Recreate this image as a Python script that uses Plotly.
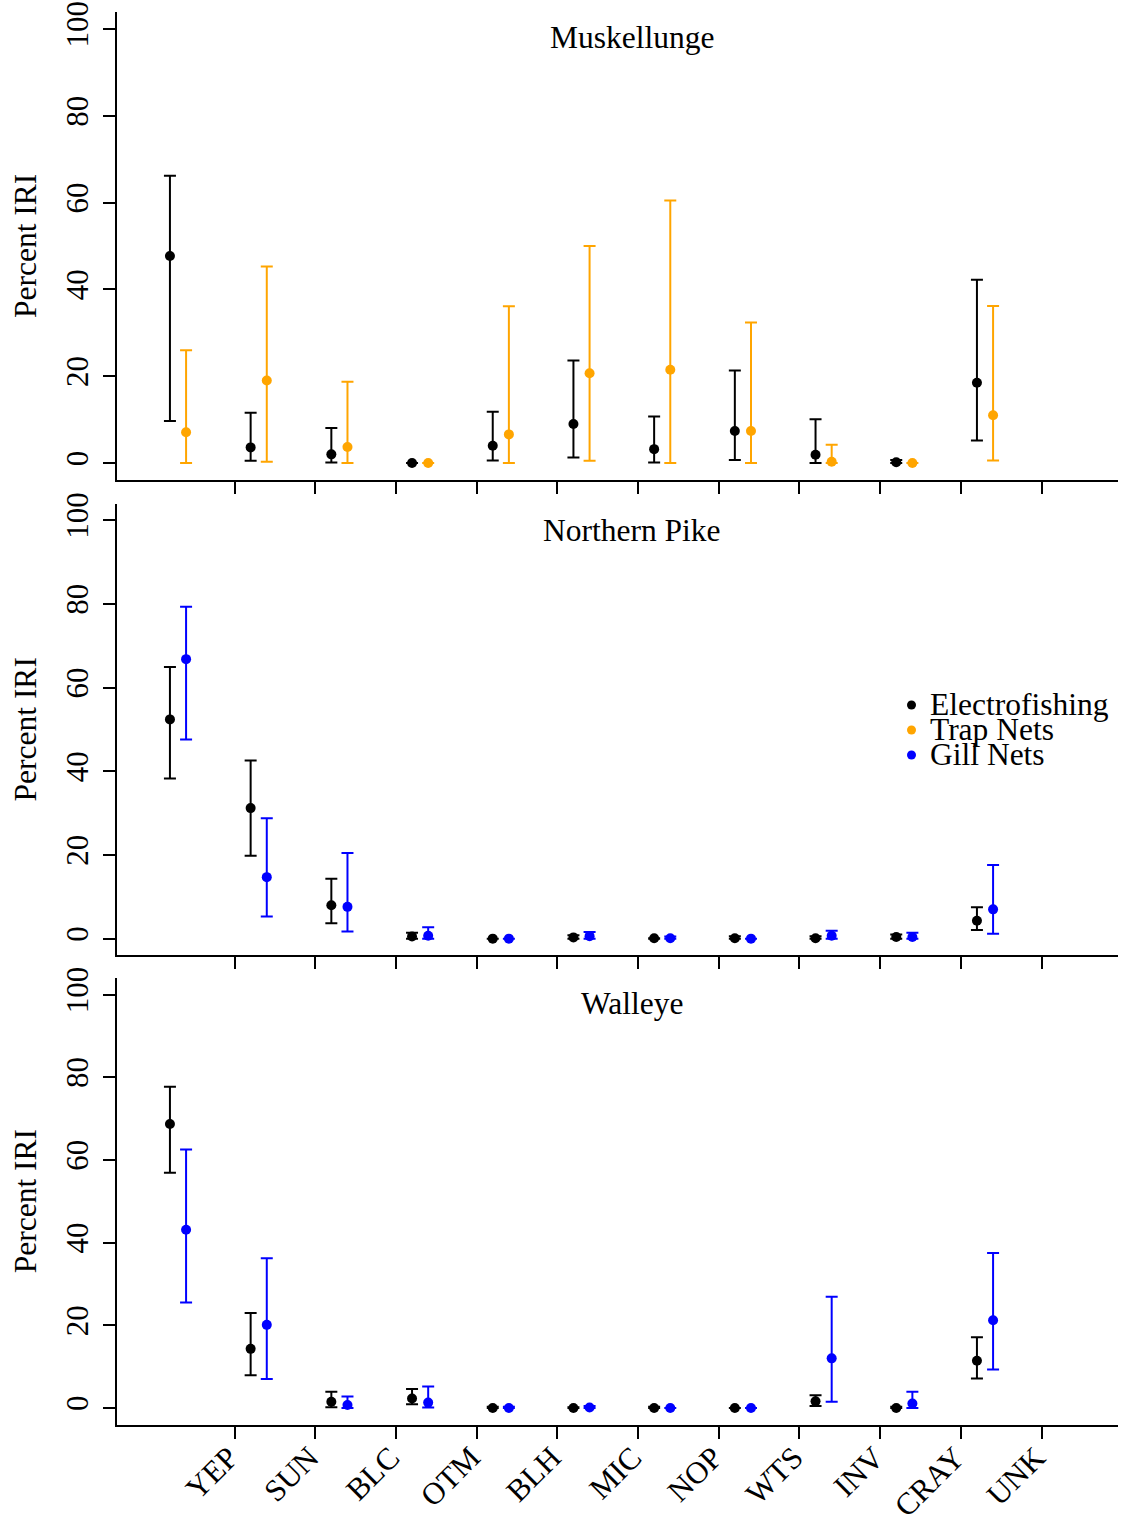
import plotly.graph_objects as go

W, H = 1125, 1515

categories = ["YEP", "SUN", "BLC", "OTM", "BLH", "MIC", "NOP", "WTS", "INV", "CRAY", "UNK"]
y_ticks = [0, 20, 40, 60, 80, 100]
panel_titles = ["Muskellunge", "Northern Pike", "Walleye"]
legend_names = ["Electrofishing", "Trap Nets", "Gill Nets"]
legend_colors = ["black", "#FFA500", "#0000FF"]

# Muskellunge: Electrofishing (black) and Trap Nets (orange)
musk_ef = [47.7, 3.6, 2.0, 0.0, 4.0, 9.0, 3.2, 7.4, 1.9, 0.2, 18.5]
musk_ef_lo = [9.7, 0.5, 0.1, 0.0, 0.6, 1.3, 0.1, 0.7, 0.0, 0.0, 5.2]
musk_ef_hi = [66.2, 11.6, 8.1, 0.0, 11.8, 23.6, 10.7, 21.3, 10.1, 0.7, 42.2]
musk_tn = [7.1, 19.0, 3.7, 0.0, 6.6, 20.7, 21.5, 7.4, 0.3, 0.0, 11.0]
musk_tn_lo = [0.0, 0.3, 0.0, 0.0, 0.0, 0.5, 0.0, 0.0, 0.0, 0.0, 0.6]
musk_tn_hi = [26.0, 45.3, 18.7, 0.0, 36.1, 50.0, 60.5, 32.4, 4.2, 0.0, 36.2]

# Northern Pike: Electrofishing (black) and Gill Nets (blue)
pike_ef = [52.4, 31.2, 8.0, 0.5, 0.0, 0.3, 0.1, 0.1, 0.1, 0.4, 4.3]
pike_ef_lo = [38.3, 19.8, 3.7, 0.0, 0.0, 0.0, 0.0, 0.0, 0.0, 0.0, 2.1]
pike_ef_hi = [64.9, 42.6, 14.3, 1.4, 0.0, 0.8, 0.1, 0.6, 0.6, 1.0, 7.5]
pike_gn = [66.8, 14.7, 7.6, 0.7, 0.0, 0.6, 0.1, 0.0, 0.7, 0.4, 7.0]
pike_gn_lo = [47.6, 5.3, 1.7, 0.0, 0.0, 0.0, 0.0, 0.0, 0.0, 0.0, 1.2]
pike_gn_hi = [79.3, 28.8, 20.5, 2.7, 0.0, 1.6, 0.5, 0.0, 1.9, 1.4, 17.6]

# Walleye: Electrofishing (black) and Gill Nets (blue)
wall_ef = [68.7, 14.3, 1.5, 2.3, 0.0, 0.0, 0.0, 0.0, 1.6, 0.0, 11.4]
wall_ef_lo = [56.9, 7.9, 0.2, 0.9, 0.0, 0.0, 0.0, 0.0, 0.5, 0.0, 7.1]
wall_ef_hi = [77.7, 23.0, 3.9, 4.6, 0.3, 0.2, 0.3, 0.0, 3.1, 0.3, 17.1]
wall_gn = [43.1, 20.1, 0.7, 1.3, 0.0, 0.1, 0.0, 0.0, 12.0, 1.1, 21.2]
wall_gn_lo = [25.5, 7.0, 0.0, 0.1, 0.0, 0.0, 0.0, 0.0, 1.5, 0.0, 9.3]
wall_gn_hi = [62.5, 36.2, 2.8, 5.2, 0.3, 0.5, 0.0, 0.0, 26.9, 3.9, 37.5]

panels = [
    (musk_ef, musk_ef_lo, musk_ef_hi, musk_tn, musk_tn_lo, musk_tn_hi, legend_colors[1]),
    (pike_ef, pike_ef_lo, pike_ef_hi, pike_gn, pike_gn_lo, pike_gn_hi, legend_colors[2]),
    (wall_ef, wall_ef_lo, wall_ef_hi, wall_gn, wall_gn_lo, wall_gn_hi, legend_colors[2]),
]

group_pos = list(range(1, len(categories) + 1))
ef_x = [g - 0.1 for g in group_pos]
other_x = [g + 0.1 for g in group_pos]
tick_x = [g + 0.7 for g in group_pos]

# panel pixel boxes (top, bottom)
boxes = [(11.6, 480.4), (503.5, 955.4), (978.0, 1424.5)]
x_left, x_right = 117, 1118
FONT = "Liberation Serif, Times New Roman, serif"
TXT = 31.5
TICK = 31

fig = go.Figure()

def add_series(xs, vals, lo, hi, color, k):
    fig.add_trace(go.Scatter(
        x=xs, y=vals, mode="markers",
        marker=dict(color=color, size=10),
        error_y=dict(type="data", symmetric=False,
                     array=[h - v for h, v in zip(hi, vals)],
                     arrayminus=[v - l for v, l in zip(vals, lo)],
                     color=color, thickness=2, width=6),
        xaxis="x" if k == 0 else f"x{k+1}",
        yaxis="y" if k == 0 else f"y{k+1}",
        showlegend=False, cliponaxis=False,
    ))

for k, (ef, eflo, efhi, ot, otlo, othi, col) in enumerate(panels):
    add_series(ef_x, ef, eflo, efhi, "black", k)
    add_series(other_x, ot, otlo, othi, col, k)

layout = dict(
    width=W, height=H,
    margin=dict(l=0, r=0, t=0, b=0, autoexpand=False),
    paper_bgcolor="white", plot_bgcolor="white",
    font=dict(family=FONT, color="black", size=TICK),
    annotations=[], shapes=[],
)

for k, (top, bot) in enumerate(boxes):
    xs = "xaxis" if k == 0 else f"xaxis{k+1}"
    ys = "yaxis" if k == 0 else f"yaxis{k+1}"
    yref = "y" if k == 0 else f"y{k+1}"
    xref = "x" if k == 0 else f"x{k+1}"
    layout[xs] = dict(
        domain=[x_left / W, x_right / W], range=[0.244, 12.648],
        anchor=yref, showgrid=False, zeroline=False, automargin=False,
        showline=True, linecolor="black", linewidth=2,
        ticks="outside", ticklen=12, tickwidth=2, tickcolor="black",
        tickmode="array", tickvals=tick_x,
        ticktext=[c + "\u00a0" for c in categories],
        showticklabels=(k == 2), tickangle=-45,
        tickfont=dict(size=TICK, family=FONT),
        ticklabelstandoff=-17,
    )
    layout[ys] = dict(
        domain=[1 - bot / H, 1 - top / H], range=[-4, 104],
        anchor=xref, showgrid=False, zeroline=False, automargin=False,
        showline=True, linecolor="black", linewidth=2,
        ticks="outside", ticklen=12, tickwidth=2, tickcolor="black",
        tickmode="array", tickvals=y_ticks,
        tickangle=-90, tickfont=dict(size=TICK, family=FONT),
        ticklabelstandoff=3,
    )
    center = (top + bot) / 2
    layout["annotations"].append(dict(
        text="Percent IRI", x=25 / W, y=1 - center / H, xref="paper", yref="paper",
        textangle=-90, showarrow=False, xanchor="center", yanchor="middle",
        font=dict(size=TXT, family=FONT)))
    title_y = [38, 530, 1004][k]
    layout["annotations"].append(dict(
        text=panel_titles[k], x=632 / W, y=1 - title_y / H, xref="paper", yref="paper",
        showarrow=False, xanchor="center", yanchor="middle",
        font=dict(size=TXT, family=FONT)))

# legend in the middle panel
leg_y = [705, 730, 755]
for name, col, ly in zip(legend_names, legend_colors, leg_y):
    layout["shapes"].append(dict(
        type="circle", xref="paper", yref="paper",
        x0=(911.5 - 4.5) / W, x1=(911.5 + 4.5) / W,
        y0=1 - (ly + 4.5) / H, y1=1 - (ly - 4.5) / H,
        fillcolor=col, line=dict(color=col, width=0)))
    layout["annotations"].append(dict(
        text=name, x=928 / W, y=1 - (ly - 1) / H, xref="paper", yref="paper",
        showarrow=False, xanchor="left", yanchor="middle",
        font=dict(size=TXT, family=FONT)))

fig.update_layout(**layout)
fig.write_html("out.html")
